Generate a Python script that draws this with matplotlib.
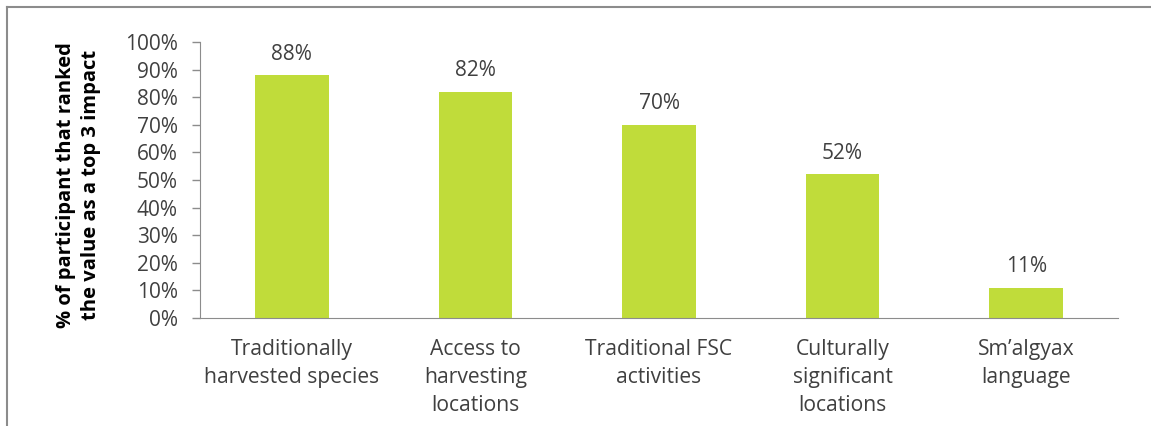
import matplotlib
matplotlib.use("Agg")
import matplotlib.pyplot as plt
from matplotlib.lines import Line2D

categories = ["Traditionally\nharvested species", "Access to\nharvesting\nlocations",
              "Traditional FSC\nactivities", "Culturally\nsignificant\nlocations",
              "Sm\u2019algyax\nlanguage"]
values = [88, 82, 70, 52, 11]
yticks = list(range(0, 101, 10))

text_color = "#404040"
bar_color = "#C0DC3A"
axis_color = "#8C8C8C"

plt.rcParams["font.family"] = ["Open Sans", "DejaVu Sans"]

fig = plt.figure(figsize=(11.51, 4.26), dpi=100)
ax = fig.add_axes([0.1738, 0.2535, 0.7975, 0.6479])

x = range(len(categories))
ax.bar(x, values, width=0.40, color=bar_color)
for xi, v in zip(x, values):
    ax.annotate(f"{v}%", (xi, v), xytext=(0, 15), textcoords="offset points",
                ha="center", va="center", fontsize=15, color=text_color)

ax.set_xlim(-0.5, len(categories) - 0.5)
ax.set_ylim(0, 100)
ax.set_yticks(yticks)
ax.set_yticklabels([f"{t}%" for t in yticks], fontsize=15, color=text_color)
ax.set_xticks(list(x))
ax.set_xticklabels(categories, fontsize=15.2, color=text_color, linespacing=1.45, va="top")
ax.tick_params(axis="x", length=0, pad=15)
ax.tick_params(axis="y", length=6, width=1, color=axis_color, pad=10)

for s in ["top", "right"]:
    ax.spines[s].set_visible(False)
for s in ["left", "bottom"]:
    ax.spines[s].set_color(axis_color)

fig.text(0.068, 0.565, "% of participant that ranked\nthe value as a top 3 impact",
         rotation=90, ha="center", va="center", fontsize=14.5, fontweight="bold",
         color="black", linespacing=1.35)

# outer frame (top and left edges visible)
fig.add_artist(Line2D([0.006, 1.0], [0.984, 0.984], transform=fig.transFigure, color="#8C8C8C", lw=1.5))
fig.add_artist(Line2D([0.006, 0.006], [0.0, 0.984], transform=fig.transFigure, color="#8C8C8C", lw=1.5))

fig.savefig("out.png", dpi=100)
